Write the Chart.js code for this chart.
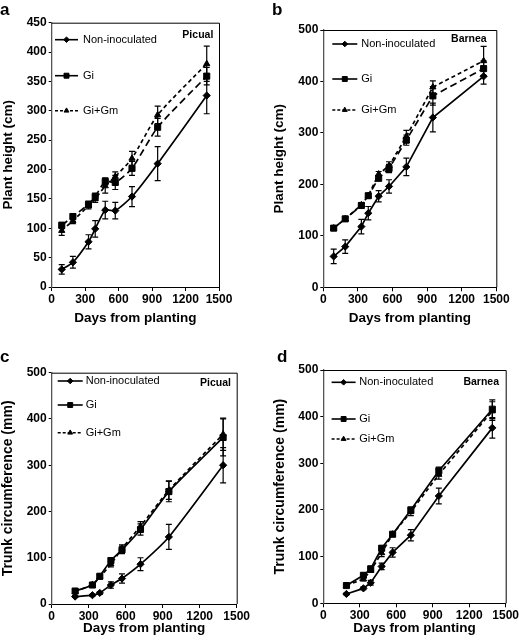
<!DOCTYPE html>
<html>
<head>
<meta charset="utf-8">
<script src="https://cdn.jsdelivr.net/npm/chart.js@4.4.0/dist/chart.umd.min.js"></script>
<style>
  body { margin: 0; background: #fff; }
  #wrap { position: relative; width: 519px; height: 640px; font-family: "Liberation Sans", Arial, sans-serif; }
  canvas { position: absolute; }
  .letter { position: absolute; font-weight: bold; font-size: 17px; line-height: 17px; }
</style>
</head>
<body>
<div id="wrap">
  <canvas id="chartA" width="259" height="330" style="left:0;top:0"></canvas>
  <canvas id="chartB" width="260" height="330" style="left:259px;top:0"></canvas>
  <canvas id="chartC" width="259" height="310" style="left:0;top:330px"></canvas>
  <canvas id="chartD" width="260" height="310" style="left:259px;top:330px"></canvas>
  <div class="letter" style="left:0;top:1px">a</div>
  <div class="letter" style="left:272px;top:1px">b</div>
  <div class="letter" style="left:0;top:348px">c</div>
  <div class="letter" style="left:277px;top:348px">d</div>
</div>
<script>
// x values (days from planting)
const daysHeight = [90, 190, 330, 390, 480, 570, 720, 950, 1390];
const daysTrunk = [190, 330, 390, 480, 570, 720, 950, 1390];
const seriesNames = ["Non-inoculated", "Gi", "Gi+Gm"];

// a - Picual, plant height (cm)
const picualHeightNon = [30, 42, 77, 99, 131, 130, 154, 210, 326];
const picualHeightNonErr = [8, 10, 12, 14, 15, 14, 17, 29, 31];
const picualHeightGi = [105, 120, 141, 154, 180, 178, 202, 272, 359];
const picualHeightGiErr = [5, 5, 5, 6, 6, 12, 12, 15, 15];
const picualHeightGiGm = [96, 113, 138, 150, 172, 188, 219, 293, 380];
const picualHeightGiGmErr = [8, 5, 5, 6, 12, 8, 12, 15, 30];

// b - Barnea, plant height (cm)
const barneaHeightNon = [60, 79, 118, 144, 177, 196, 234, 330, 410];
const barneaHeightNonErr = [14, 13, 14, 13, 11, 13, 17, 28, 15];
const barneaHeightGi = [115, 133, 159, 178, 212, 231, 286, 372, 425];
const barneaHeightGiErr = [4, 3, 4, 4, 5, 8, 10, 18, 15];
const barneaHeightGiGm = [115, 133, 160, 178, 220, 236, 293, 389, 440];
const barneaHeightGiGmErr = [4, 3, 4, 4, 5, 8, 12, 12, 28];

// c - Picual, trunk circumference (mm)
const picualTrunkNon = [16, 19, 24, 41, 55, 86, 145, 300];
const picualTrunkNonErr = [2, 2, 3, 7, 10, 14, 27, 38];
const picualTrunkGi = [28, 41, 60, 94, 117, 161, 243, 360];
const picualTrunkGiErr = [3, 3, 4, 6, 8, 12, 22, 40];
const picualTrunkGiGm = [27, 42, 58, 86, 120, 168, 246, 367];
const picualTrunkGiGmErr = [3, 3, 4, 6, 8, 10, 20, 35];

// d - Barnea, trunk circumference (mm)
const barneaTrunkNon = [20, 32, 44, 79, 109, 146, 230, 376];
const barneaTrunkNonErr = [2, 3, 5, 7, 10, 12, 17, 22];
const barneaTrunkGi = [38, 60, 74, 118, 148, 200, 284, 416];
const barneaTrunkGiErr = [2, 4, 4, 5, 4, 6, 8, 20];
const barneaTrunkGiGm = [38, 52, 70, 108, 148, 196, 276, 412];
const barneaTrunkGiGmErr = [2, 4, 4, 8, 4, 8, 10, 20];

const FONT = "'Liberation Sans', Arial, sans-serif";

// error bars, drawn from each dataset's "errors" list
const errorBars = {
  id: "errorBars",
  afterDatasetsDraw(chart) {
    const ctx = chart.ctx;
    const y = chart.scales.y;
    ctx.save();
    ctx.strokeStyle = "#000";
    ctx.lineWidth = 1.2;
    chart.data.datasets.forEach((ds, i) => {
      const meta = chart.getDatasetMeta(i);
      meta.data.forEach((pt, j) => {
        const v = ds.data[j].y;
        const e = ds.errors[j];
        const top = y.getPixelForValue(v + e);
        const bot = y.getPixelForValue(v - e);
        ctx.beginPath();
        ctx.moveTo(pt.x, top); ctx.lineTo(pt.x, bot);
        ctx.moveTo(pt.x - 3, top); ctx.lineTo(pt.x + 3, top);
        ctx.moveTo(pt.x - 3, bot); ctx.lineTo(pt.x + 3, bot);
        ctx.stroke();
      });
    });
    ctx.restore();
  }
};

// box around the plot, legend inside it and the cultivar name
const panelDecor = {
  id: "panelDecor",
  afterDraw(chart, args, opts) {
    const ctx = chart.ctx;
    const a = chart.chartArea;
    ctx.save();
    ctx.strokeStyle = "#000";
    ctx.lineWidth = 1;
    ctx.beginPath();
    ctx.moveTo(a.left, a.top + 0.5); ctx.lineTo(a.right + 0.5, a.top + 0.5);
    ctx.lineTo(a.right + 0.5, a.bottom);
    ctx.stroke();

    chart.data.datasets.forEach((ds, i) => {
      const ly = a.top + opts.rows[i];
      const x0 = a.left + opts.lineX[0];
      const x1 = a.left + opts.lineX[1];
      ctx.strokeStyle = "#000";
      ctx.fillStyle = "#000";
      ctx.lineWidth = 1.6;
      ctx.setLineDash(ds.legendDash);
      ctx.beginPath();
      ctx.moveTo(x0, ly); ctx.lineTo(x1, ly);
      ctx.stroke();
      ctx.setLineDash([]);
      ctx.lineWidth = 1;
      Chart.helpers.drawPoint(ctx, { pointStyle: ds.pointStyle, radius: ds.pointRadius - 0.8, rotation: 0, borderWidth: 1 }, (x0 + x1) / 2, ly);
      ctx.font = "11px " + FONT;
      ctx.textBaseline = "middle";
      ctx.textAlign = "left";
      ctx.fillText(ds.label, a.left + opts.textX, ly);
    });

    ctx.font = "bold 10.5px " + FONT;
    ctx.textAlign = "right";
    ctx.textBaseline = "middle";
    ctx.fillText(opts.name, a.right - opts.nameRight, a.top + opts.nameTop);
    ctx.restore();
  }
};

function series(label, xs, ys, errs, dash, legendDash, point, radius, tension) {
  return {
    label: label,
    data: xs.map((x, i) => ({ x: x, y: ys[i] })),
    errors: errs,
    borderColor: "#000",
    backgroundColor: "#000",
    pointBackgroundColor: "#000",
    pointBorderColor: "#000",
    borderWidth: 1.7,
    borderDash: dash,
    legendDash: legendDash,
    pointStyle: point,
    pointRadius: radius,
    pointBorderWidth: 1,
    tension: tension
  };
}

function makePanel(id, p) {
  const datasets = [
    series(seriesNames[0], p.days, p.non, p.nonErr, [], [], "rectRot", 3.6, p.tension),
    series(seriesNames[1], p.days, p.gi, p.giErr, p.giDash, [], "rect", 4.3, p.tension),
    series(seriesNames[2], p.days, p.gigm, p.gigmErr, [4, 3], [3, 2], "triangle", 3.6, p.tension)
  ];
  new Chart(document.getElementById(id), {
    type: "line",
    data: { datasets: datasets },
    options: {
      responsive: false,
      animation: false,
      layout: { padding: { top: p.top, right: p.right, left: 0, bottom: 0 } },
      plugins: {
        legend: { display: false },
        tooltip: { enabled: false },
        panelDecor: p.decor
      },
      scales: {
        x: {
          type: "linear", min: 0, max: 1500,
          ticks: { stepSize: 300, color: "#000", padding: 1, maxRotation: 0, minRotation: 0, autoSkip: false,
            callback: (v) => String(v),
            font: { family: FONT, size: 12, weight: "bold" } },
          grid: { drawOnChartArea: false, tickLength: 4, color: "#000" },
          border: { color: "#000", width: 1 },
          title: { display: true, text: "Days from planting", color: "#000", padding: { top: 0, bottom: 3.4 },
            font: { family: FONT, size: 13.5, weight: "bold" } },
          afterFit: (s) => { s.height = p.xHeight; s.paddingLeft = 0; s.paddingRight = 0; }
        },
        y: {
          min: 0, max: p.yMax,
          ticks: { stepSize: p.yStep, color: "#000", padding: 2, font: { family: FONT, size: 12, weight: "bold" } },
          grid: { drawOnChartArea: false, tickLength: 3, color: "#000" },
          border: { color: "#555", width: 1.3 },
          title: { display: true, text: p.yTitle, color: "#000", padding: { top: p.yTitlePad, bottom: 0 },
            font: { family: FONT, size: p.yTitleSize, weight: "bold" } },
          afterFit: (s) => { s.width = p.yWidth; s.paddingTop = 0; s.paddingBottom = 0; }
        }
      }
    },
    plugins: [errorBars, panelDecor]
  });
}

makePanel("chartA", {
  days: daysHeight, non: picualHeightNon, nonErr: picualHeightNonErr,
  gi: picualHeightGi, giErr: picualHeightGiErr, gigm: picualHeightGiGm, gigmErr: picualHeightGiGmErr,
  giDash: [7, 4], tension: 0.2, yMax: 450, yStep: 50, yTitle: "Plant height (cm)", yTitleSize: 13.5,
  top: 22.7, right: 40, yWidth: 51.7, yTitlePad: 0, xHeight: 43,
  decor: { rows: [17, 53, 88], lineX: [3.3, 26.3], textX: 31.3, name: "Picual", nameRight: 5.7, nameTop: 12 }
});

makePanel("chartB", {
  days: daysHeight, non: barneaHeightNon, nonErr: barneaHeightNonErr,
  gi: barneaHeightGi, giErr: barneaHeightGiErr, gigm: barneaHeightGiGm, gigmErr: barneaHeightGiGmErr,
  giDash: [7, 4], tension: 0, yMax: 500, yStep: 100, yTitle: "Plant height (cm)", yTitleSize: 13.5,
  top: 30, right: 22.7, yWidth: 64.3, yTitlePad: 12.4, xHeight: 42.7,
  decor: { rows: [14, 49, 80], lineX: [9, 34], textX: 38, name: "Barnea", nameRight: 9.6, nameTop: 9 }
});

makePanel("chartC", {
  days: daysTrunk, non: picualTrunkNon, nonErr: picualTrunkNonErr,
  gi: picualTrunkGi, giErr: picualTrunkGiErr, gigm: picualTrunkGiGm, gigmErr: picualTrunkGiGmErr,
  giDash: [], tension: 0.2, yMax: 500, yStep: 100, yTitle: "Trunk circumference (mm)", yTitleSize: 14,
  top: 42.7, right: 22.3, yWidth: 51.7, yTitlePad: 0, xHeight: 36,
  decor: { rows: [8.3, 32.3, 60], lineX: [6, 31], textX: 34, name: "Picual", nameRight: 5.7, nameTop: 10 }
});

makePanel("chartD", {
  days: daysTrunk, non: barneaTrunkNon, nonErr: barneaTrunkNonErr,
  gi: barneaTrunkGi, giErr: barneaTrunkGiErr, gigm: barneaTrunkGiGm, gigmErr: barneaTrunkGiGmErr,
  giDash: [], tension: 0, yMax: 500, yStep: 100, yTitle: "Trunk circumference (mm)", yTitleSize: 14,
  top: 40, right: 13.3, yWidth: 64.3, yTitlePad: 12.4, xHeight: 36.7,
  decor: { rows: [12.3, 49, 69], lineX: [8.3, 32.3], textX: 36, name: "Barnea", nameRight: 6.7, nameTop: 12.3 }
});
</script>
</body>
</html>
